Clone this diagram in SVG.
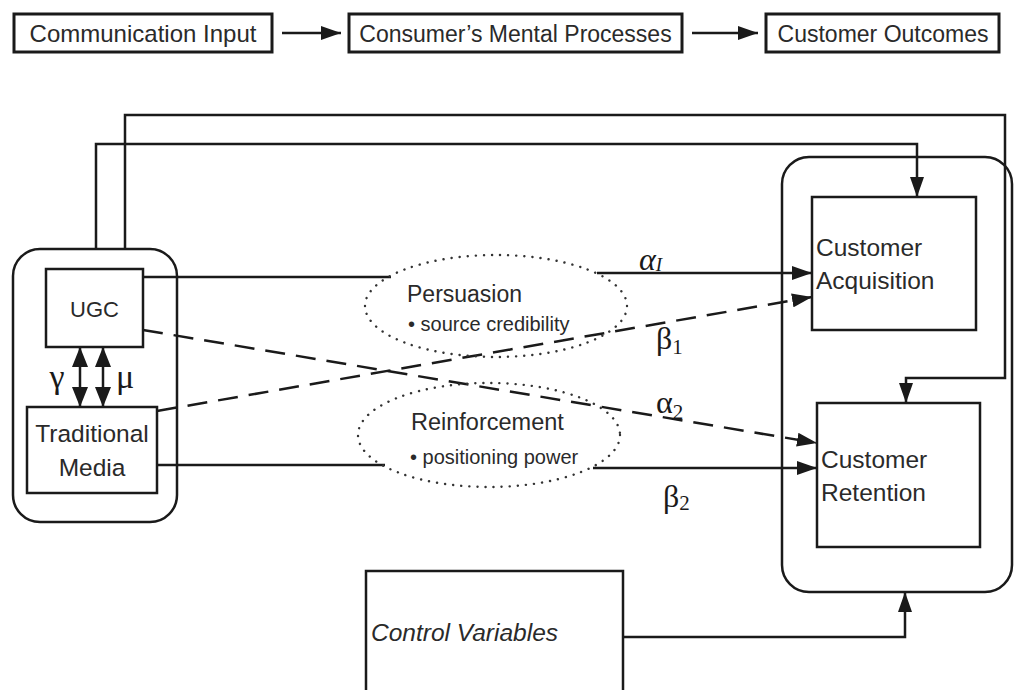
<svg xmlns="http://www.w3.org/2000/svg" width="1014" height="690" viewBox="0 0 1014 690">
<defs>
<marker id="ah" markerUnits="userSpaceOnUse" markerWidth="22" markerHeight="14" refX="20" refY="7" orient="auto-start-reverse">
<path d="M0,0 L20,7 L0,14 z" fill="#1a1a1a"/>
</marker>
<marker id="ah2" markerUnits="userSpaceOnUse" markerWidth="22" markerHeight="16" refX="20" refY="8" orient="auto-start-reverse">
<path d="M0,0 L20,8 L0,16 z" fill="#1a1a1a"/>
</marker>
<style>
.box{fill:#fff;stroke:#1a1a1a;stroke-width:2.5}
.hbox{fill:#fff;stroke:#1a1a1a;stroke-width:3}
.cont{fill:none;stroke:#1a1a1a;stroke-width:2.5}
.ell{fill:none;stroke:#333;stroke-width:2.4;stroke-dasharray:0.1 8;stroke-linecap:round}
.ln{fill:none;stroke:#1a1a1a;stroke-width:2.5}
.dash{fill:none;stroke:#1a1a1a;stroke-width:2.5;stroke-dasharray:20 11}
.t{font-family:"Liberation Sans",Arial,sans-serif;fill:#2a2a2a}
.g{font-family:"Liberation Serif","Times New Roman",serif;fill:#1a1a1a}
</style>
</defs>
<rect width="1014" height="690" fill="#fff"/>

<g id="header">
<g id="comm-input"><rect class="hbox" x="14" y="14" width="258" height="38"/><text class="t" x="143" y="41.5" font-size="24" text-anchor="middle">Communication Input</text></g>
<g id="mental"><rect class="hbox" x="349" y="14" width="333" height="38"/><text class="t" x="515.5" y="41.5" font-size="23" text-anchor="middle">Consumer’s Mental Processes</text></g>
<g id="outcomes"><rect class="hbox" x="766" y="14" width="233" height="38"/><text class="t" x="883" y="41.5" font-size="23" text-anchor="middle">Customer Outcomes</text></g>
</g>

<g id="connectors">
<path class="ln" d="M282,33 H341" stroke-width="3.5" marker-end="url(#ah)"/>
<path class="ln" d="M692,33 H758" stroke-width="3.5" marker-end="url(#ah)"/>
<path class="ln" d="M125,249 V115 H1005 V378 H906 V403" marker-end="url(#ah)"/>
<path class="ln" d="M96,249 V144 H917 V197" marker-end="url(#ah)"/>
<path class="ln" d="M143,277 H391"/>
<path class="ln" d="M597,273 H812" marker-end="url(#ah)"/>
<path class="ln" d="M157,465 H385"/>
<path class="ln" d="M593,468 H817" marker-end="url(#ah)"/>
<path class="dash" d="M143,330 L817,443" marker-end="url(#ah)"/>
<path class="dash" d="M157,411 L812,297" marker-end="url(#ah)"/>
<path class="ln" d="M80,347 V407" stroke-width="3" marker-start="url(#ah2)" marker-end="url(#ah2)"/>
<path class="ln" d="M103,347 V407" stroke-width="3" marker-start="url(#ah2)" marker-end="url(#ah2)"/>
<path class="ln" d="M623,637 H905 V592" marker-end="url(#ah)"/>
</g>

<g id="media-group"><rect class="cont" x="13" y="249" width="164" height="273" rx="27"/></g>
<g id="ugc"><rect class="box" x="46" y="269" width="97" height="78"/><text class="t" x="94.5" y="317" font-size="22" text-anchor="middle">UGC</text></g>
<g id="trad"><rect class="box" x="27" y="407" width="130" height="86"/><text class="t" x="92" y="442" font-size="24.5" text-anchor="middle">Traditional</text><text class="t" x="92" y="476" font-size="24.5" text-anchor="middle">Media</text></g>
<g id="gamma"><text class="g" x="57" y="388" font-size="34" text-anchor="middle">γ</text></g>
<g id="mu"><text class="g" x="125" y="388" font-size="34" text-anchor="middle">μ</text></g>

<g id="persuasion"><ellipse class="ell" cx="496" cy="306" rx="131" ry="51"/><text class="t" x="407" y="302" font-size="23">Persuasion</text><text class="t" x="408" y="331" font-size="20">• source credibility</text></g>
<g id="reinforcement"><ellipse class="ell" cx="489" cy="435" rx="131" ry="52"/><text class="t" x="411" y="430" font-size="23.5">Reinforcement</text><text class="t" x="410" y="464" font-size="20">• positioning power</text></g>

<g id="outcome-group"><rect class="cont" x="782" y="157" width="230" height="435" rx="27"/></g>
<g id="acq"><rect class="box" x="812" y="197" width="164" height="133"/><text class="t" x="816" y="256" font-size="24.5">Customer</text><text class="t" x="816" y="289" font-size="24.5">Acquisition</text></g>
<g id="ret"><rect class="box" x="817" y="403" width="163" height="144"/><text class="t" x="821" y="468" font-size="24.5">Customer</text><text class="t" x="821" y="501" font-size="24.5">Retention</text></g>

<g id="control"><rect class="box" x="366" y="571" width="257" height="130"/><text class="t" x="371" y="641" font-size="24.5" font-style="italic">Control Variables</text></g>

<g id="labels">
<text class="g" x="639" y="270" font-size="32" font-style="italic">α<tspan font-size="19" dy="1">I</tspan></text>
<text class="g" x="656" y="349" font-size="32">β<tspan font-size="21" dy="5">1</tspan></text>
<text class="g" x="656" y="413" font-size="32">α<tspan font-size="21" dy="6">2</tspan></text>
<text class="g" x="663" y="507" font-size="32">β<tspan font-size="21" dy="3">2</tspan></text>
</g>
</svg>
